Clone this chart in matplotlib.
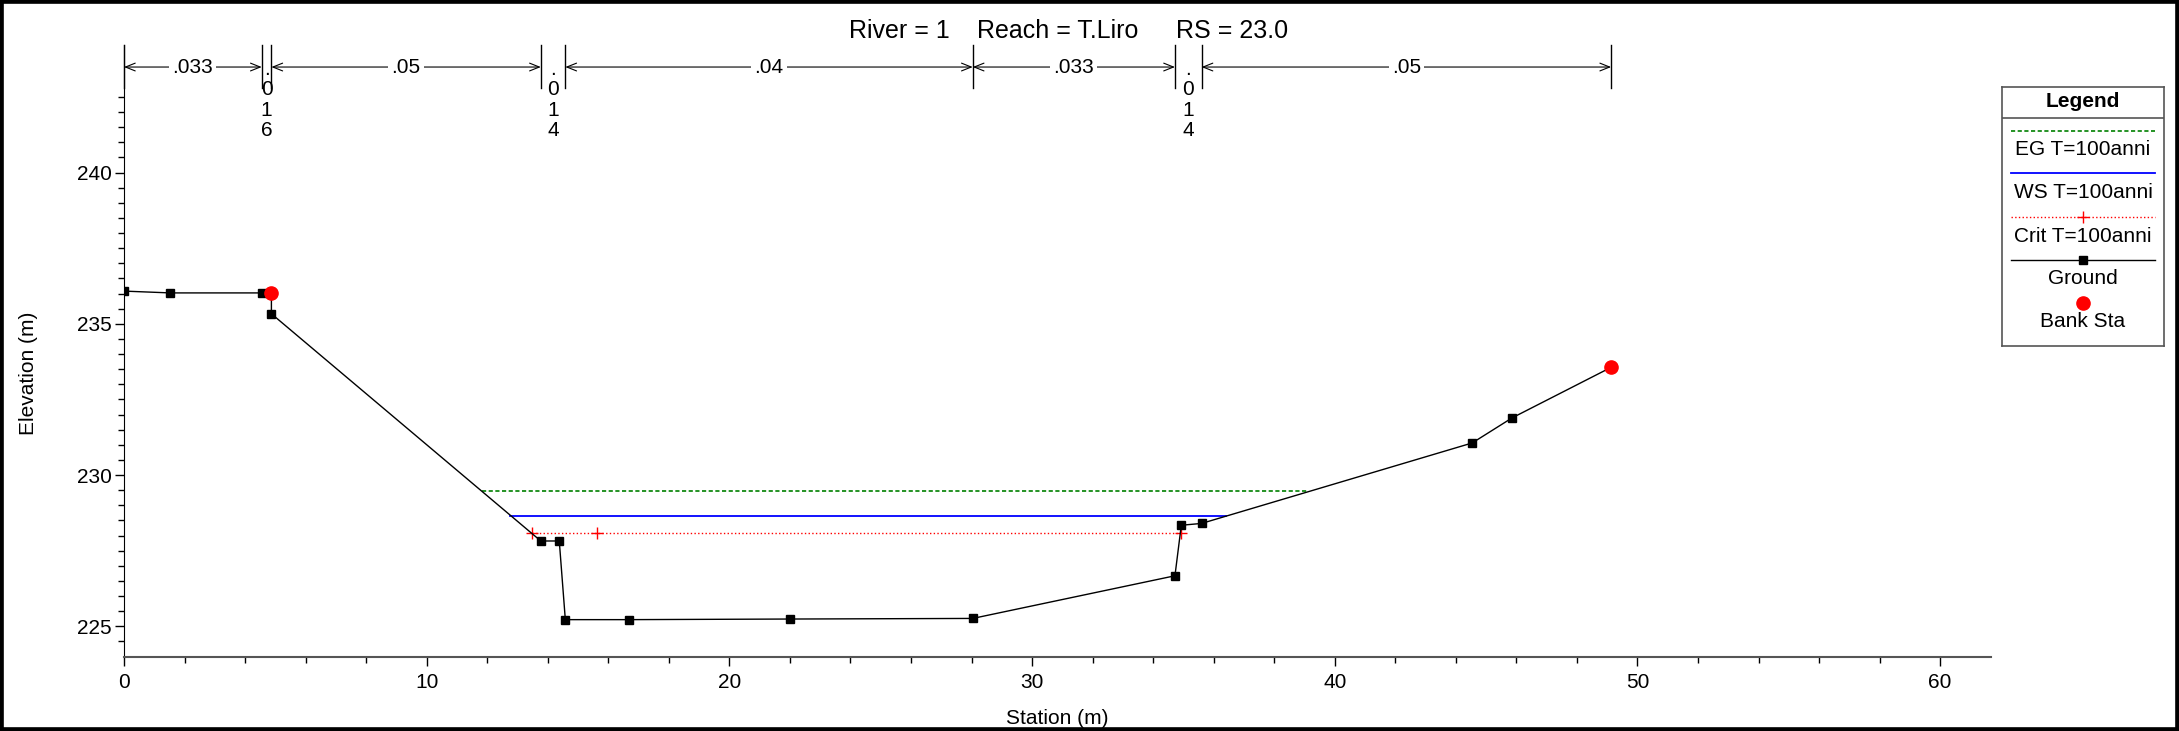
import numpy as np
import matplotlib.pyplot as plt
import matplotlib.transforms as mtransforms
from matplotlib.patches import Rectangle
from matplotlib.ticker import FixedLocator, MultipleLocator

plt.rcParams['font.family'] = ['Liberation Sans', 'DejaVu Sans']

# ground profile
sta = [0.0, 1.53, 4.55, 4.87, 4.87, 13.77, 14.38, 14.58, 16.69, 22.0, 28.04,
       34.72, 34.93, 35.6, 44.54, 45.86, 49.13]
elev = [236.08, 236.02, 236.02, 236.02, 235.33, 227.82, 227.82, 225.22, 225.22,
        225.24, 225.26, 226.67, 228.34, 228.40, 231.06, 231.89, 233.56]

# bank stations
bank_sta = [4.87, 49.13]
bank_elev = [236.02, 233.56]

# water profiles T=100anni
eg_sta = [11.83, 39.13]
eg_elev = [229.46, 229.46]
ws_sta = [12.76, 36.41]
ws_elev = [228.64, 228.64]
crit_sta = [13.47, 15.63, 34.91]
crit_elev = [228.07, 228.07, 228.07]

# manning n
n_sta = [0.0, 4.55, 4.87, 13.77, 14.58, 28.04, 34.72, 35.6, 49.13]
n_val = ['.033', '.016', '.05', '.014', '.04', '.033', '.014', '.05']

W, H = 2179, 731
fig = plt.figure(figsize=(W / 100, H / 100), dpi=100)
ax = fig.add_axes([124 / W, (H - 657) / H, (1991 - 124) / W, (657 - 45) / H])

ax.plot(eg_sta, eg_elev, color='green', lw=1.2, ls=(0, (2.5, 1.5)))
ax.plot(ws_sta, ws_elev, color='#0000ff', lw=1.3)
ax.plot(crit_sta, crit_elev, color='red', lw=1, ls=':', marker='+', ms=8, mew=1)
ax.plot(sta, elev, color='black', lw=1, marker='s', ms=5.5)
ax.plot(bank_sta, bank_elev, 'o', color='red', ms=9.5, zorder=5)

ax.set_xlim(0, 61.68)
ax.set_ylim(223.985, 244.215)
ax.xaxis.set_major_locator(MultipleLocator(10))
ax.xaxis.set_minor_locator(MultipleLocator(2))
ax.yaxis.set_major_locator(FixedLocator([225, 230, 235, 240]))
ax.yaxis.set_minor_locator(FixedLocator(np.arange(224.5, 242.6, 0.5)))
ax.tick_params(which='major', length=6.5, width=1, labelsize=15)
ax.tick_params(which='minor', length=4, width=1)
ax.tick_params(axis='y', pad=2.5)
ax.tick_params(axis='x', pad=5)
for s in ['top', 'right']:
    ax.spines[s].set_visible(False)
ax.spines['bottom'].set_color('#555555')
ax.spines['bottom'].set_linewidth(1.5)

ax.set_xlabel('Station (m)', fontsize=15)
ax.xaxis.label.set_va('center')
ax.xaxis.set_label_coords(0.5, -0.1)
ax.set_ylabel('Elevation (m)', fontsize=15)
ax.yaxis.label.set_va('center')
ax.yaxis.set_label_coords(-0.0514, 0.464)

# manning n brackets
trans = mtransforms.blended_transform_factory(ax.transData, ax.transAxes)
ya = 0.964
for x in n_sta:
    ax.plot([x, x], [0.9297, 1.0], color='black', lw=1, transform=trans, clip_on=False)
for i, v in enumerate(n_val):
    x0, x1 = n_sta[i], n_sta[i + 1]
    xm = (x0 + x1) / 2
    if x1 - x0 < 1.5:
        ax.text(xm, 0.91, '\n'.join(v), transform=trans, ha='center', va='center',
                fontsize=15, linespacing=1.08)
    else:
        ax.annotate('', xy=(x1, ya), xytext=(x0, ya), xycoords=trans, textcoords=trans,
                    arrowprops=dict(arrowstyle='<->,head_length=0.5,head_width=0.2',
                                    color='black', lw=0.8, shrinkA=0, shrinkB=0,
                                    mutation_scale=14))
        ax.text(xm, ya, v, transform=trans, ha='center', va='center', fontsize=15,
                bbox=dict(boxstyle='square,pad=0.15', fc='white', ec='none'))

# title
fig.text(849 / W, 1 - 31 / H, 'River = 1', fontsize=18, ha='left', va='center')
fig.text(977 / W, 1 - 31 / H, 'Reach = T.Liro', fontsize=18, ha='left', va='center')
fig.text(1176 / W, 1 - 31 / H, 'RS = 23.0', fontsize=18, ha='left', va='center')

# legend box
lax = fig.add_axes([2001.7 / W, (H - 346) / H, 162.6 / W, 258.7 / H])
lax.set_xlim(0, 1)
lax.set_ylim(0, 1)
lax.set_xticks([])
lax.set_yticks([])
for s in lax.spines.values():
    s.set_color('#555555')
    s.set_linewidth(1.2)
lax.axhline(0.882, color='#555555', lw=1.2)
lax.text(0.5, 0.944, 'Legend', fontsize=15, fontweight='bold', ha='center', va='center')
lx = [0.06, 0.94]
lax.plot(lx, [0.831, 0.831], color='green', lw=1.2, ls=(0, (2.5, 1.5)))
lax.text(0.5, 0.758, 'EG T=100anni', fontsize=15, ha='center', va='center')
lax.plot(lx, [0.667, 0.667], color='#0000ff', lw=1.3)
lax.text(0.5, 0.593, 'WS T=100anni', fontsize=15, ha='center', va='center')
lax.plot(lx, [0.5, 0.5], color='red', lw=1, ls=':')
lax.plot([0.5], [0.5], color='red', marker='+', ms=8, mew=1)
lax.text(0.5, 0.425, 'Crit T=100anni', fontsize=15, ha='center', va='center')
lax.plot(lx, [0.331, 0.331], color='black', lw=1)
lax.plot([0.5], [0.331], color='black', marker='s', ms=5.5)
lax.text(0.5, 0.262, 'Ground', fontsize=15, ha='center', va='center')
lax.plot([0.5], [0.1675], 'o', color='red', ms=9.5)
lax.text(0.5, 0.096, 'Bank Sta', fontsize=15, ha='center', va='center')

# outer frame
fig.patches.append(Rectangle((0, 0), 1, 1, transform=fig.transFigure, fill=False,
                             ec='black', lw=5.5))

fig.savefig('out.png', dpi=100)
